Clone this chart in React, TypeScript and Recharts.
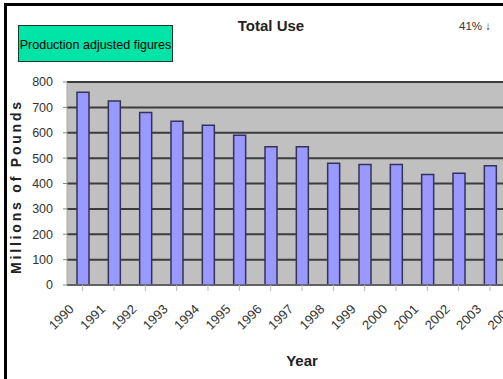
import React from 'react'
import { BarChart, Bar, XAxis, YAxis, CartesianGrid } from 'recharts'

// Total use per year, millions of pounds
const years = ['1990', '1991', '1992', '1993', '1994', '1995', '1996', '1997', '1998', '1999', '2000', '2001', '2002', '2003', '2004']
const totalUse = [760, 725, 680, 645, 630, 590, 545, 545, 480, 475, 475, 435, 440, 470, 450]
const yTicks = [0, 100, 200, 300, 400, 500, 600, 700, 800]

const chartData = years.map((year, i) => ({ year, total: totalUse[i] }))

const FONT = '"Liberation Sans", Arial, sans-serif'

const YearTick = ({ x, y, payload }: any) => (
  <text
    x={x - 8}
    y={y + 17}
    transform={`rotate(-45, ${x - 8}, ${y + 17})`}
    textAnchor="end"
    fontFamily={FONT}
    fontSize={13}
    fill="#333"
  >
    {payload.value}
  </text>
)

export default function App() {
  return (
    <div
      style={{
        position: 'fixed',
        left: 0,
        top: 0,
        width: 503,
        height: 379,
        overflow: 'hidden',
        background: '#fff',
        fontFamily: FONT,
      }}
    >
      {/* frame */}
      <div
        style={{
          position: 'absolute',
          left: 4,
          top: 3,
          width: 520,
          height: 400,
          borderTop: '3px solid #000',
          borderLeft: '3px solid #000',
        }}
      />
      <div
        style={{
          position: 'absolute',
          left: 18,
          top: 25,
          width: 153,
          height: 32,
          background: '#00e4a8',
          border: '1px solid #1a3a2a',
          fontSize: 12.5,
          color: '#000',
          display: 'flex',
          alignItems: 'center',
          justifyContent: 'center',
          paddingTop: 3,
          boxSizing: 'content-box',
        }}
      >
        Production adjusted figures
      </div>
      <div
        style={{
          position: 'absolute',
          left: 201,
          top: 17,
          width: 140,
          textAlign: 'center',
          fontSize: 15,
          fontWeight: 'bold',
          color: '#222',
        }}
      >
        Total Use
      </div>
      <div style={{ position: 'absolute', left: 459, top: 20, fontSize: 11.5, color: '#333' }}>41% ↓</div>
      <div style={{ position: 'absolute', left: 0, top: 0 }}>
        <BarChart
          width={537}
          height={379}
          data={chartData}
          margin={{ top: 82, right: 0, bottom: 0, left: 11 }}
          barSize={12}
        >
          <CartesianGrid
            vertical={false}
            stroke="#3c3c3c"
            strokeWidth={2}
            fill="#c0c0c0"
          />
          <XAxis
            dataKey="year"
            height={94}
            interval={0}
            tick={<YearTick />}
            tickLine={{ stroke: '#bbb' }}
            axisLine={{ stroke: '#888' }}
            tickSize={6}
            label={{
              value: 'Year',
              position: 'insideBottom',
              offset: 13,
              style: { fontFamily: FONT, fontSize: 15, fontWeight: 'bold', fill: '#222' },
            }}
          />
          <YAxis
            width={56}
            domain={[0, 800]}
            ticks={yTicks}
            interval={0}
            tickLine={{ stroke: '#888' }}
            axisLine={{ stroke: '#aaa' }}
            tickSize={4}
            tickMargin={10}
            tick={{ fontFamily: FONT, fontSize: 12.5, fill: '#333' }}
            label={{
              value: 'Millions of Pounds',
              angle: -90,
              position: 'insideLeft',
              offset: 5,
              dy: 3,
              style: {
                fontFamily: FONT,
                fontSize: 14,
                fontWeight: 'bold',
                fill: '#222',
                textAnchor: 'middle',
                letterSpacing: 2.8,
              },
            }}
          />
          <Bar
            dataKey="total"
            fill="#9999ff"
            stroke="#33335a"
            strokeWidth={1.5}
            isAnimationActive={false}
          />
        </BarChart>
      </div>
    </div>
  )
}
